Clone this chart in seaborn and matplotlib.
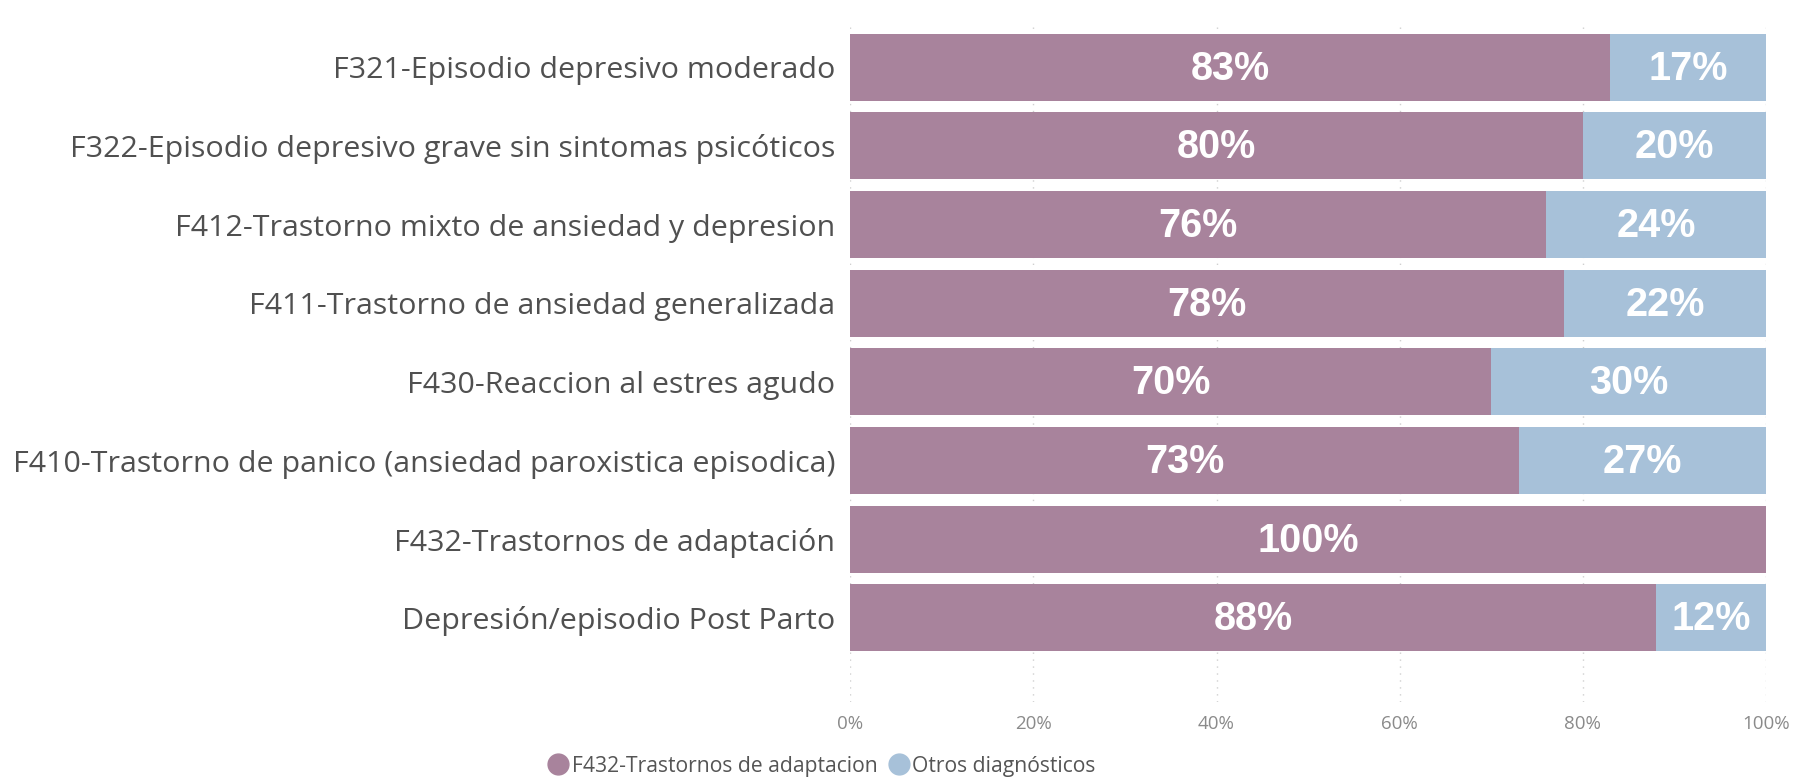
import numpy as np
import pandas as pd
import seaborn as sns
import matplotlib.pyplot as plt
from matplotlib.lines import Line2D

# datos
categorias = [
    "F321-Episodio depresivo moderado",
    "F322-Episodio depresivo grave sin sintomas psicóticos",
    "F412-Trastorno mixto de ansiedad y depresion",
    "F411-Trastorno de ansiedad generalizada",
    "F430-Reaccion al estres agudo",
    "F410-Trastorno de panico (ansiedad paroxistica episodica)",
    "F432-Trastornos de adaptación",
    "Depresión/episodio Post Parto",
]
adaptacion = [83, 80, 76, 78, 70, 73, 100, 88]
otros = [17, 20, 24, 22, 30, 27, 0, 12]
ticks = [0, 20, 40, 60, 80, 100]
series = ["F432-Trastornos de adaptacion", "Otros diagnósticos"]

col_morado = "#a8839c"
col_azul = "#a7c1d9"

df = pd.DataFrame({"cat": categorias, "adap": adaptacion, "otros": otros})
df["total"] = df["adap"] + df["otros"]

sns.set_style("white")
plt.rcParams['font.family'] = ['Open Sans', 'DejaVu Sans']

fig = plt.figure(figsize=(17.98, 7.83), dpi=100)
ax = fig.add_axes([0.473, 0.1034, 0.509, 0.865])

# barras apiladas: primero el total (azul), encima la parte morada
sns.barplot(data=df, x="total", y="cat", color=col_azul, width=0.85,
            saturation=1, linewidth=0, ax=ax, zorder=2)
sns.barplot(data=df, x="adap", y="cat", color=col_morado, width=0.85,
            saturation=1, linewidth=0, ax=ax, zorder=3)

for i, (a, o) in enumerate(zip(adaptacion, otros)):
    ax.text(a / 2, i + 0.02, f"{a}%", ha="center", va="center", color="white",
            fontsize=28.5, fontweight="bold", family="Liberation Sans", zorder=5)
    if o > 0:
        ax.text(a + o / 2, i + 0.02, f"{o}%", ha="center", va="center", color="white",
                fontsize=28.5, fontweight="bold", family="Liberation Sans", zorder=5)

ax.set_xlim(0, 100)
ax.set_ylim(8.07, -0.54)
ax.set_xticks(ticks)
ax.set_xticklabels([f"{t}%" for t in ticks], color="#8a8a8a", fontsize=13.5)
ax.tick_params(axis="x", length=0, pad=9)
ax.tick_params(axis="y", length=0, pad=11, labelsize=21.9, labelcolor="#505050")
ax.set_xlabel("")
ax.set_ylabel("")
ax.xaxis.grid(True, linestyle=(0, (1, 4)), color="#d0d0d0", linewidth=1, zorder=0)
ax.set_axisbelow(True)
for s in ax.spines.values():
    s.set_visible(False)

handles = [Line2D([], [], marker="o", linestyle="", markersize=15, color=col_morado),
           Line2D([], [], marker="o", linestyle="", markersize=15, color=col_azul)]
fig.legend(handles, series, loc="lower left", bbox_to_anchor=(0.288, -0.016),
           ncol=2, frameon=False, fontsize=15.2, handletextpad=-0.35,
           columnspacing=0.0, labelcolor="#555555")

fig.savefig("out.png", dpi=100)
